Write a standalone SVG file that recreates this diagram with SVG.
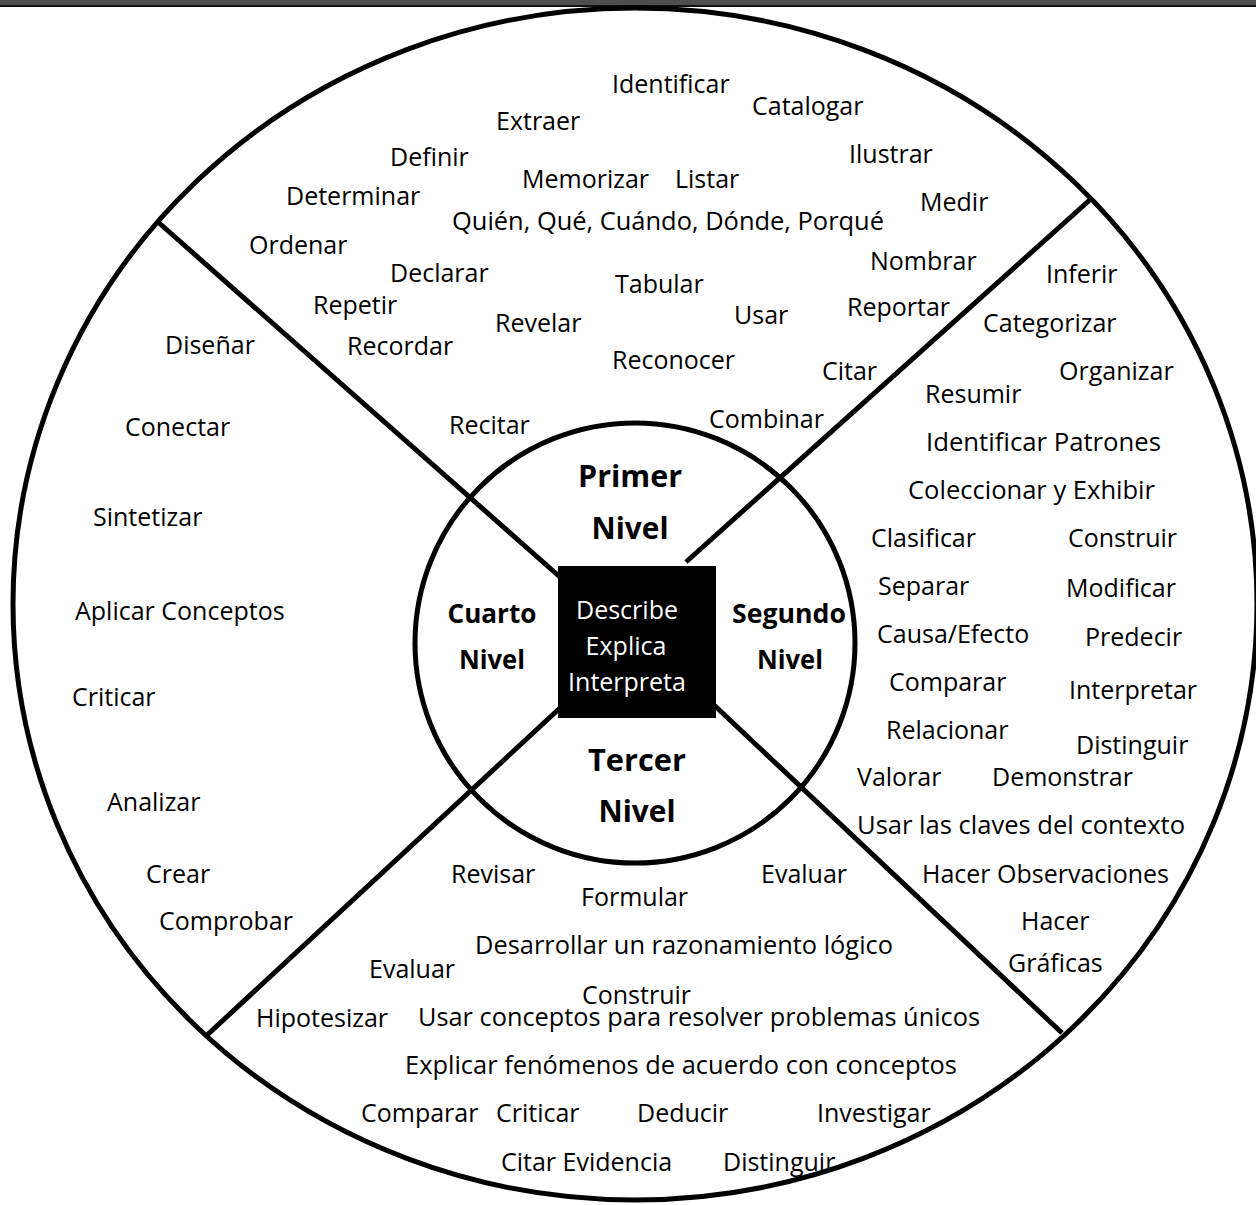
<svg xmlns="http://www.w3.org/2000/svg" width="1256" height="1205" viewBox="0 0 1256 1205">
<style>
.w{font-family:"Open Sans","Noto Sans",sans-serif;font-size:25px;fill:#000}
.b{font-family:"Open Sans","Noto Sans",sans-serif;font-size:30px;font-weight:bold;fill:#000;text-anchor:middle}
.s{font-size:27px}
.c{font-family:"Open Sans","Noto Sans",sans-serif;font-size:25px;fill:#fff;text-anchor:middle}
.ring{fill:none;stroke:#000;stroke-width:5}
.ln{stroke:#000;stroke-width:5;fill:none}
</style>
<rect x="0" y="0" width="1256" height="1205" fill="#fff"/>
<rect x="0" y="0" width="1256" height="5" fill="#4f4f4f"/>
<rect x="0" y="5" width="1256" height="2" fill="#111"/>
<g id="outer-ring"><ellipse class="ring" cx="635" cy="604" rx="622" ry="596"/></g>
<g id="connectors">
<line class="ln" x1="158" y1="222" x2="560" y2="577"/>
<line class="ln" x1="1092" y1="198" x2="686" y2="562"/>
<line class="ln" x1="205" y1="1037" x2="560" y2="708"/>
<line class="ln" x1="1062" y1="1033" x2="714" y2="705"/>
</g>
<g id="inner-ring"><circle class="ring" cx="635" cy="643" r="220"/></g>
<g id="center">
<rect x="558" y="566" width="158" height="152" fill="#000"/>
<text class="c" x="627" y="619">Describe</text>
<text class="c" x="626" y="655">Explica</text>
<text class="c" x="627" y="691">Interpreta</text>
</g>
<g id="level-1"><text class="b" x="630" y="487" textLength="104" lengthAdjust="spacingAndGlyphs">Primer</text><text class="b" x="630" y="539" textLength="77" lengthAdjust="spacingAndGlyphs">Nivel</text></g>
<g id="level-2"><text class="b s" x="789" y="623" textLength="114" lengthAdjust="spacingAndGlyphs">Segundo</text><text class="b s" x="790" y="669" textLength="66" lengthAdjust="spacingAndGlyphs">Nivel</text></g>
<g id="level-3"><text class="b" x="637" y="771" textLength="98" lengthAdjust="spacingAndGlyphs">Tercer</text><text class="b" x="637" y="822" textLength="77" lengthAdjust="spacingAndGlyphs">Nivel</text></g>
<g id="level-4"><text class="b s" x="492" y="623" textLength="89" lengthAdjust="spacingAndGlyphs">Cuarto</text><text class="b s" x="492" y="669" textLength="66" lengthAdjust="spacingAndGlyphs">Nivel</text></g>
<g id="sector-1">
<text class="w" x="612" y="93">Identificar</text>
<text class="w" x="752" y="115">Catalogar</text>
<text class="w" x="496" y="130">Extraer</text>
<text class="w" x="390" y="166">Definir</text>
<text class="w" x="849" y="163">Ilustrar</text>
<text class="w" x="522" y="188">Memorizar</text>
<text class="w" x="675" y="188">Listar</text>
<text class="w" x="286" y="205">Determinar</text>
<text class="w" x="920" y="211">Medir</text>
<text class="w" x="452" y="230" textLength="432" lengthAdjust="spacingAndGlyphs">Quién, Qué, Cuándo, Dónde, Porqué</text>
<text class="w" x="249" y="254">Ordenar</text>
<text class="w" x="870" y="270">Nombrar</text>
<text class="w" x="390" y="282">Declarar</text>
<text class="w" x="615" y="293">Tabular</text>
<text class="w" x="313" y="314">Repetir</text>
<text class="w" x="847" y="316">Reportar</text>
<text class="w" x="734" y="324">Usar</text>
<text class="w" x="495" y="332">Revelar</text>
<text class="w" x="347" y="355">Recordar</text>
<text class="w" x="612" y="369">Reconocer</text>
<text class="w" x="822" y="380">Citar</text>
<text class="w" x="449" y="434">Recitar</text>
<text class="w" x="709" y="428">Combinar</text>
</g>
<g id="sector-2">
<text class="w" x="1046" y="283">Inferir</text>
<text class="w" x="983" y="332">Categorizar</text>
<text class="w" x="1059" y="380">Organizar</text>
<text class="w" x="925" y="403">Resumir</text>
<text class="w" x="926" y="451" textLength="235" lengthAdjust="spacingAndGlyphs">Identificar Patrones</text>
<text class="w" x="908" y="499" textLength="247" lengthAdjust="spacingAndGlyphs">Coleccionar y Exhibir</text>
<text class="w" x="871" y="547">Clasificar</text>
<text class="w" x="1068" y="547">Construir</text>
<text class="w" x="878" y="595">Separar</text>
<text class="w" x="1066" y="597">Modificar</text>
<text class="w" x="877" y="643">Causa/Efecto</text>
<text class="w" x="1085" y="646">Predecir</text>
<text class="w" x="889" y="691">Comparar</text>
<text class="w" x="1069" y="699">Interpretar</text>
<text class="w" x="886" y="739">Relacionar</text>
<text class="w" x="1076" y="754">Distinguir</text>
<text class="w" x="857" y="786">Valorar</text>
<text class="w" x="992" y="786">Demonstrar</text>
<text class="w" x="857" y="834" textLength="328" lengthAdjust="spacingAndGlyphs">Usar las claves del contexto</text>
<text class="w" x="922" y="883">Hacer Observaciones</text>
<text class="w" x="1021" y="930">Hacer</text>
<text class="w" x="1008" y="972">Gráficas</text>
</g>
<g id="sector-3">
<text class="w" x="451" y="883">Revisar</text>
<text class="w" x="761" y="883">Evaluar</text>
<text class="w" x="581" y="906">Formular</text>
<text class="w" x="475" y="954" textLength="418" lengthAdjust="spacingAndGlyphs">Desarrollar un razonamiento lógico</text>
<text class="w" x="369" y="978">Evaluar</text>
<text class="w" x="582" y="1004">Construir</text>
<text class="w" x="256" y="1027">Hipotesizar</text>
<text class="w" x="418" y="1026" textLength="562" lengthAdjust="spacingAndGlyphs">Usar conceptos para resolver problemas únicos</text>
<text class="w" x="405" y="1074" textLength="552" lengthAdjust="spacingAndGlyphs">Explicar fenómenos de acuerdo con conceptos</text>
<text class="w" x="361" y="1122">Comparar</text>
<text class="w" x="496" y="1122">Criticar</text>
<text class="w" x="637" y="1122">Deducir</text>
<text class="w" x="817" y="1122">Investigar</text>
<text class="w" x="501" y="1171">Citar Evidencia</text>
<text class="w" x="723" y="1171">Distinguir</text>
</g>
<g id="sector-4">
<text class="w" x="165" y="354">Diseñar</text>
<text class="w" x="125" y="436">Conectar</text>
<text class="w" x="93" y="526">Sintetizar</text>
<text class="w" x="75" y="620">Aplicar Conceptos</text>
<text class="w" x="72" y="706">Criticar</text>
<text class="w" x="107" y="811">Analizar</text>
<text class="w" x="146" y="883">Crear</text>
<text class="w" x="159" y="930">Comprobar</text>
</g>
</svg>
